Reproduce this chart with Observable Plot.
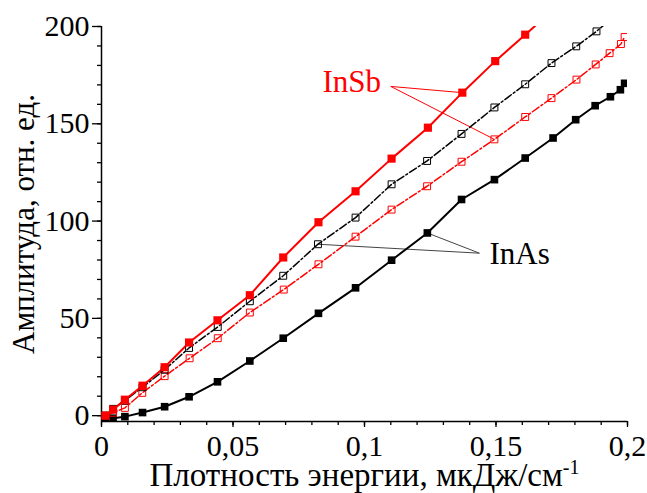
<!DOCTYPE html>
<html><head><meta charset="utf-8">
<script src="https://cdn.jsdelivr.net/npm/d3@7"></script>
<script src="https://cdn.jsdelivr.net/npm/@observablehq/plot@0.6"></script>
<style>
body{margin:0;background:#fff}
#chart svg{font-family:"Liberation Serif","Times New Roman",serif;overflow:visible}
</style>
</head><body><div id="chart"></div><script>
// ---- data ----
const xLabelMain = "Плотность энергии, мкДж/см";
const xLabelSup = "-1";
const yLabel = "Амплитуда, отн. ед.";
const xMajorTicks = [0, 0.05, 0.1, 0.15, 0.2];
const xMinorTicks = d3.range(0, 0.2001, 0.01);
const yMajorTicks = [0, 50, 100, 150, 200];
const yMinorTicks = d3.range(0, 201, 10);
const xDomain = [0, 0.2];
const yDomain = [-3, 200];

// InSb, filled red squares (solid line)
const xInSbA = [0.0015,0.0044,0.0089,0.0156,0.0240,0.0333,0.0441,0.0564,0.0691,0.0825,0.0966,0.1103,0.1241,0.1372,0.1497,0.1611,0.1730];
const yInSbA = [0,3.1,8.2,15.4,24.9,37.6,49.0,61.9,81.3,99.4,115.3,132.1,148.0,166.0,182.2,195.8,210];
// InSb, open red squares (dash-dot line)
const xInSbB = [0.0015,0.0044,0.0089,0.0155,0.0240,0.0335,0.0442,0.0564,0.0693,0.0825,0.0966,0.1103,0.1238,0.1369,0.1494,0.1611,0.1711,0.1806,0.1879,0.1932,0.1975,0.1989];
const yInSbB = [0,1.5,4.0,11.7,20.3,29.5,39.8,53.0,64.8,77.8,92.0,105.9,117.9,130.5,142.0,153.5,163.2,172.7,180.5,186.3,191.0,194.6];
// InAs, open black squares (dash-dot line)
const xInAsB = [0.0015,0.0044,0.0089,0.0156,0.0240,0.0333,0.0442,0.0564,0.0691,0.0823,0.0966,0.1103,0.1238,0.1369,0.1494,0.1611,0.1711,0.1805,0.1882,0.1965];
const yInAsB = [0,3.5,7.8,14.6,23.6,34.8,45.6,58.8,71.9,88.1,101.8,118.9,130.9,144.8,158.4,170.3,181.2,189.8,197.5,207];
// InAs, filled black squares (solid line)
const xInAsA = [0.0015,0.0044,0.0089,0.0156,0.0240,0.0333,0.0441,0.0564,0.0691,0.0825,0.0966,0.1103,0.1239,0.1369,0.1494,0.1611,0.1717,0.1803,0.1877,0.1935,0.1973,0.1989];
const yInAsA = [-1,-1.3,-0.5,1.6,4.6,9.7,17.4,28.1,39.8,52.6,65.7,79.9,93.9,111.1,121.3,132.4,142.7,152.1,159.3,163.9,167.5,170.8];

// annotations
const insbText = {label: "InSb", x: 0.0840, y: 166.1};
const inasText = {label: "InAs", x: 0.1475, y: 78.2};
const insbLinks = [
  {x1: 0.1100, y1: 169.2, x2: 0.1372, y2: 166.0},
  {x1: 0.1100, y1: 169.2, x2: 0.1494, y2: 142.0}
];
const inasLinks = [
  {x1: 0.1437, y1: 83.5, x2: 0.1239, y2: 93.9},
  {x1: 0.1437, y1: 83.5, x2: 0.0823, y2: 88.1}
];

// ---- build ----
const F = '"Liberation Serif","Times New Roman",serif';
const rows = (xs, ys) => xs.map((x, i) => ({x, y: ys[i]}));
const RED = "#ff0000";
const fmt = d => String(d).replace(".", ",");

const sA = rows(xInSbA, yInSbA);
const sB = rows(xInSbB, yInSbB);
const aB = rows(xInAsB, yInAsB);
const aA = rows(xInAsA, yInAsA);

const chart = Plot.plot({
  width: 647,
  height: 493,
  marginLeft: 101,
  marginRight: 20,
  marginTop: 26,
  marginBottom: 72,
  style: {background: "#fff", fontFamily: F, color: "#000"},
  x: {domain: xDomain},
  y: {domain: yDomain},
  marks: [
    Plot.axisX({ticks: xMinorTicks, tickSize: 4, tickFormat: () => "", label: null, strokeWidth: 1.3}),
    Plot.axisX({ticks: xMajorTicks, tickSize: 6, tickPadding: 7, tickFormat: fmt, label: null, fontSize: 30, fontFamily: F, strokeWidth: 1.3}),
    Plot.axisY({ticks: yMinorTicks, tickSize: 4, tickFormat: () => "", label: null, strokeWidth: 1.3}),
    Plot.axisY({ticks: yMajorTicks, tickSize: 9, tickPadding: 3, tickFormat: fmt, label: null, fontSize: 30, fontFamily: F, strokeWidth: 1.3}),
    Plot.ruleY([yDomain[0]], {stroke: "#000", strokeWidth: 1.5}),
    Plot.ruleX([xDomain[0]], {stroke: "#000", strokeWidth: 1.5}),
    // annotation links
    Plot.link(insbLinks, {x1: "x1", y1: "y1", x2: "x2", y2: "y2", stroke: RED, strokeWidth: 1}),
    Plot.link(inasLinks, {x1: "x1", y1: "y1", x2: "x2", y2: "y2", stroke: "#444", strokeWidth: 1}),
    // lines
    Plot.line(aA, {x: "x", y: "y", stroke: "#000", strokeWidth: 2, clip: true}),
    Plot.line(sB, {x: "x", y: "y", stroke: RED, strokeWidth: 1.5, strokeDasharray: "8,2.5,2,2.5", clip: true}),
    Plot.line(aB, {x: "x", y: "y", stroke: "#000", strokeWidth: 1.5, strokeDasharray: "8,2.5,2,2.5", clip: true}),
    Plot.line(sA, {x: "x", y: "y", stroke: RED, strokeWidth: 2, clip: true}),
    // markers
    Plot.dot(aA, {x: "x", y: "y", symbol: "square", r: 4.3, fill: "#000", stroke: "none", clip: true}),
    Plot.dot(sB, {x: "x", y: "y", symbol: "square", r: 3.9, fill: "none", stroke: RED, strokeWidth: 1, clip: true}),
    Plot.dot(aB, {x: "x", y: "y", symbol: "square", r: 3.9, fill: "none", stroke: "#000", strokeWidth: 1, clip: true}),
    Plot.dot(sA, {x: "x", y: "y", symbol: "square", r: 4.6, fill: RED, stroke: "none", clip: true}),
    // annotation labels
    Plot.text([insbText], {x: "x", y: "y", text: "label", fill: RED, fontSize: 31, fontFamily: F, textAnchor: "start", lineAnchor: "bottom"}),
    Plot.text([inasText], {x: "x", y: "y", text: "label", fill: "#000", fontSize: 31, fontFamily: F, textAnchor: "start", lineAnchor: "bottom"}),
    // axis titles
    Plot.text([xLabelMain], {frameAnchor: "bottom", textAnchor: "middle", dy: 64, lineAnchor: "bottom", fontSize: 33, fontFamily: F, fill: "#000"}),
    Plot.text([yLabel], {frameAnchor: "left", textAnchor: "middle", dx: -68, rotate: -90, lineAnchor: "bottom", fontSize: 31, fontFamily: F, fill: "#000"})
  ]
});

// superscript on the x title
chart.querySelectorAll("text").forEach(t => {
  if (t.textContent === xLabelMain) {
    const ts = document.createElementNS("http://www.w3.org/2000/svg", "tspan");
    ts.setAttribute("dy", "-0.6em");
    ts.setAttribute("font-size", "20");
    ts.textContent = xLabelSup;
    t.appendChild(ts);
  }
});
document.getElementById("chart").appendChild(chart);
</script></body></html>
